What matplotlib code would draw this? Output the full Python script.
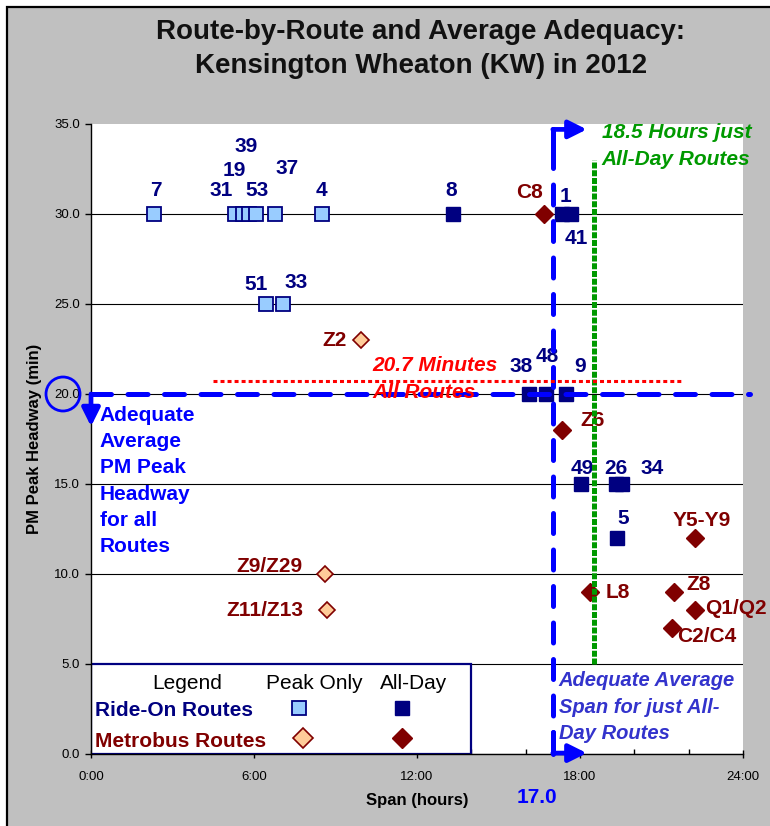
import matplotlib
matplotlib.use("Agg")
import matplotlib.pyplot as plt
from matplotlib.patches import Rectangle, Ellipse
from matplotlib.ticker import FixedLocator, FuncFormatter

plt.rcParams['font.family'] = ['Liberation Sans', 'DejaVu Sans']

# ---- data -------------------------------------------------------------
# Ride-On routes operating only in the peak
rideon_peak_routes = ['7', '31', '19', '39', '53', '37', '4', '51', '33']
rideon_peak_span = [2.31, 5.29, 5.58, 5.80, 6.06, 6.76, 8.52, 6.46, 7.05]
rideon_peak_headway = [30, 30, 30, 30, 30, 30, 30, 25, 25]

# Ride-On routes operating all day
rideon_allday_routes = ['8', '1', '41', '38', '48', '9', '49', '26', '34', '5']
rideon_allday_span = [13.33, 17.33, 17.66, 16.12, 16.75, 17.48, 18.03, 19.32, 19.54, 19.35]
rideon_allday_headway = [30, 30, 30, 20, 20, 20, 15, 15, 15, 12]

# Metrobus routes operating only in the peak
metro_peak_routes = ['Z2', 'Z9/Z29', 'Z11/Z13']
metro_peak_span = [9.95, 8.63, 8.67]
metro_peak_headway = [23, 10, 8]

# Metrobus routes operating all day
metro_allday_routes = ['C8', 'Z6', 'L8', 'Z8', 'Q1/Q2', 'C2/C4', 'Y5-Y9']
metro_allday_span = [16.67, 17.33, 18.36, 21.45, 22.22, 21.37, 22.25]
metro_allday_headway = [30, 18, 9, 9, 8, 7, 12]

# Adequacy thresholds and averages
adequate_headway = 20.0       # minutes
avg_headway_all = 20.7        # minutes, all routes
adequate_span = 17.0          # hours
avg_span_allday = 18.5        # hours, all-day routes only

x_ticks = [0, 6, 12, 18, 24]
y_ticks = [0, 5, 10, 15, 20, 25, 30, 35]

# ---- styling ----------------------------------------------------------
NAVY = '#000080'
LIGHT_BLUE = '#99ccff'
MAROON = '#800000'
PEACH = '#ffcc99'
BLUE = '#0000ff'
GREEN = '#009900'
SPAN_BLUE = '#3333cc'
GREY = '#c0c0c0'

# label offsets in pixels (dx, dy) from each marker
label_offsets = {
    '7': (2, 23), '31': (-14, 23), '19': (-8, 44), '39': (-2, 67),
    '53': (1, 23), '37': (12, 45), '4': (-1, 23), '51': (-10, 20),
    '33': (14, 21), '8': (-2, 24), '1': (4, 18), '41': (6, -24),
    '38': (-8, 27), '48': (1, 38), '9': (14, 27), '49': (1, 16),
    '26': (0, 16), '34': (30, 16), '5': (7, 19),
    'Z2': (-27, 0), 'Z9/Z29': (-56, 8), 'Z11/Z13': (-62, 0),
    'C8': (-14, 21), 'Z6': (31, 9), 'L8': (28, 0), 'Z8': (25, 8),
    'Q1/Q2': (41, 2), 'C2/C4': (35, -8), 'Y5-Y9': (6, 17),
}
boxed_labels = {'38', '48', '9'}

W, H = 770, 826
fig = plt.figure(figsize=(W / 100, H / 100), dpi=100)
fig.patch.set_facecolor('white')
fig.add_artist(Rectangle((7 / W, -0.1), 1.2, 1 - 7 / H + 0.1,
                         transform=fig.transFigure, facecolor=GREY,
                         edgecolor='black', lw=1.6, zorder=-10))

ax = fig.add_axes([91 / W, 1 - 754 / H, (743 - 91) / W, (754 - 124) / H])
ax.set_facecolor('white')
ax.set_xlim(0, 24)
ax.set_ylim(0, 35)
for s in ('top', 'right'):
    ax.spines[s].set_visible(False)
for s in ('left', 'bottom'):
    ax.spines[s].set_color('black')
    ax.spines[s].set_linewidth(1.0)

ax.xaxis.set_major_locator(FixedLocator(x_ticks))
ax.xaxis.set_minor_locator(FixedLocator([h for h in range(0, 25, 2) if h not in x_ticks]))
ax.xaxis.set_major_formatter(FuncFormatter(lambda v, p: f"{int(v)}:00"))
ax.yaxis.set_major_locator(FixedLocator(y_ticks))
ax.yaxis.set_major_formatter(FuncFormatter(lambda v, p: f"{v:.1f}"))
ax.tick_params(axis='y', direction='out', length=4, width=1, labelsize=9.5, pad=4)
ax.tick_params(axis='x', which='major', direction='inout', length=6, width=1,
               labelsize=9.5, pad=9)
ax.tick_params(axis='x', which='minor', direction='in', length=3.5, width=1)

ax.set_axisbelow(True)
ax.yaxis.grid(True, color='black', lw=0.8)
ax.get_ygridlines()[-1].set_visible(False)

# ---- markers ----------------------------------------------------------
ax.plot(rideon_peak_span, rideon_peak_headway, 's', ms=10, mfc=LIGHT_BLUE,
        mec=NAVY, mew=1.3, ls='none', zorder=3)
ax.plot(rideon_allday_span, rideon_allday_headway, 's', ms=10.5, mfc=NAVY,
        mec=NAVY, mew=1.0, ls='none', zorder=3)
ax.plot(metro_peak_span, metro_peak_headway, 'D', ms=8.5, mfc=PEACH,
        mec=MAROON, mew=1.2, ls='none', zorder=3)
ax.plot(metro_allday_span, metro_allday_headway, 'D', ms=9.5, mfc=MAROON,
        mec=MAROON, mew=1.0, ls='none', zorder=3)


def put_labels(names, xs, ys, color):
    for name, x, y in zip(names, xs, ys):
        dx, dy = label_offsets[name]
        bbox = None
        if name in boxed_labels:
            bbox = dict(facecolor='white', edgecolor='none', pad=1)
        ax.annotate(name, (x, y), xytext=(dx * 0.72, dy * 0.72),
                    textcoords='offset points', ha='center', va='center',
                    fontsize=15, fontweight='bold', color=color,
                    bbox=bbox, zorder=3.5, annotation_clip=False)


put_labels(rideon_peak_routes, rideon_peak_span, rideon_peak_headway, NAVY)
put_labels(rideon_allday_routes, rideon_allday_span, rideon_allday_headway, NAVY)
put_labels(metro_peak_routes, metro_peak_span, metro_peak_headway, MAROON)
put_labels(metro_allday_routes, metro_allday_span, metro_allday_headway, MAROON)

# ---- reference lines --------------------------------------------------
dash = (0, (4, 3.3))
ax.plot([0, 24.25], [adequate_headway] * 2, color=BLUE, lw=3.6, ls=dash,
        dash_capstyle='round', clip_on=False, zorder=4)
ax.plot([adequate_span] * 2, [0.1, 34.7], color=BLUE, lw=3.6, ls=dash,
        dash_capstyle='round', clip_on=False, zorder=4)
ax.plot([adequate_span] * 2, [33.6, 34.7], color=BLUE, lw=3.6,
        solid_capstyle='round', clip_on=False, zorder=4)
ax.plot([adequate_span] * 2, [0.0, 1.2], color=BLUE, lw=3.6,
        solid_capstyle='round', clip_on=False, zorder=4)

arrow = dict(arrowstyle='-|>,head_length=0.6,head_width=0.3', color=BLUE,
             lw=3.4, mutation_scale=18, shrinkA=0, shrinkB=0)
ax.annotate('', xy=(adequate_span + 1.25, 34.7), xytext=(adequate_span, 34.7),
            arrowprops=arrow, annotation_clip=False, zorder=4)
ax.annotate('', xy=(adequate_span + 1.25, 0.05), xytext=(adequate_span, 0.05),
            arrowprops=arrow, annotation_clip=False, zorder=4)
ax.annotate('', xy=(0, 18.2), xytext=(0, adequate_headway),
            arrowprops=arrow, annotation_clip=False, zorder=4)

ax.plot([avg_span_allday] * 2, [5.0, 33.0], color=GREEN, lw=3.6,
        ls=(0, (1.2, 0.35)), zorder=4)
ax.plot([4.48, 21.8], [avg_headway_all] * 2, color='red', lw=2.2,
        ls=(0, (1.3, 1.0)), zorder=4)

# circle around the 20.0 tick label
fig.add_artist(Ellipse((63 / W, 1 - 394 / H), 34 / W, 34 / H,
                       transform=fig.transFigure, fill=False,
                       edgecolor=BLUE, lw=2.0, zorder=10))

# ---- annotation texts -------------------------------------------------
ax.text(0.33, 15.17, "Adequate\nAverage\nPM Peak\nHeadway\nfor all\nRoutes",
        ha='left', va='center', fontsize=15, fontweight='bold', color=BLUE,
        linespacing=1.49, zorder=6)
ax.text(10.36, 20.83, f"{avg_headway_all:.1f} Minutes\nAll Routes",
        ha='left', va='center', fontsize=15, fontweight='bold',
        fontstyle='italic', color='red', linespacing=1.56, zorder=6)
ax.text(18.8, 33.78, f"{avg_span_allday:.1f} Hours just\nAll-Day Routes",
        ha='left', va='center', fontsize=15, fontweight='bold',
        fontstyle='italic', color=GREEN, linespacing=1.55, zorder=6,
        clip_on=False)
ax.text(17.22, 2.61, "Adequate Average\nSpan for just All-\nDay Routes",
        ha='left', va='center', fontsize=14.5, fontweight='bold',
        fontstyle='italic', color=SPAN_BLUE, linespacing=1.5, zorder=6)
ax.text(16.4, -2.4, f"{adequate_span:.1f}", ha='center', va='center',
        fontsize=15, fontweight='bold', color=BLUE, clip_on=False, zorder=6)

# ---- legend key -------------------------------------------------------
ax.add_patch(Rectangle((0, 0), 14.0, 5.0, facecolor='white', edgecolor=NAVY,
                       lw=1.6, zorder=2.5))
ax.text(3.53, 3.89, "Legend", ha='center', va='center', fontsize=15, zorder=3)
ax.text(8.23, 3.89, "Peak Only", ha='center', va='center', fontsize=15, zorder=3)
ax.text(11.86, 3.89, "All-Day", ha='center', va='center', fontsize=15, zorder=3)
ax.text(0.15, 2.44, "Ride-On Routes", ha='left', va='center', fontsize=15,
        fontweight='bold', color=NAVY, zorder=3)
ax.text(0.15, 0.72, "Metrobus Routes", ha='left', va='center', fontsize=15,
        fontweight='bold', color=MAROON, zorder=3)
ax.plot([7.64], [2.56], 's', ms=10, mfc=LIGHT_BLUE, mec=NAVY, mew=1.3, zorder=3)
ax.plot([11.46], [2.56], 's', ms=10.5, mfc=NAVY, mec=NAVY, zorder=3)
ax.plot([7.82], [0.89], 'D', ms=10, mfc=PEACH, mec=MAROON, mew=1.2, zorder=3)
ax.plot([11.46], [0.89], 'D', ms=10, mfc=MAROON, mec=MAROON, zorder=3)

# ---- titles -----------------------------------------------------------
fig.text(421 / W, 1 - 49 / H,
         "Route-by-Route and Average Adequacy:\nKensington Wheaton (KW) in 2012",
         ha='center', va='center', fontsize=20, fontweight='bold',
         color='#111111', linespacing=1.38)
fig.text(417 / W, 1 - 801 / H, "Span (hours)", ha='center', va='center',
         fontsize=12, fontweight='bold')
fig.text(35 / W, 1 - 439 / H, "PM Peak Headway (min)", ha='center', va='center',
         rotation=90, fontsize=12, fontweight='bold')

fig.savefig("out.png", dpi=100, facecolor=fig.get_facecolor())
